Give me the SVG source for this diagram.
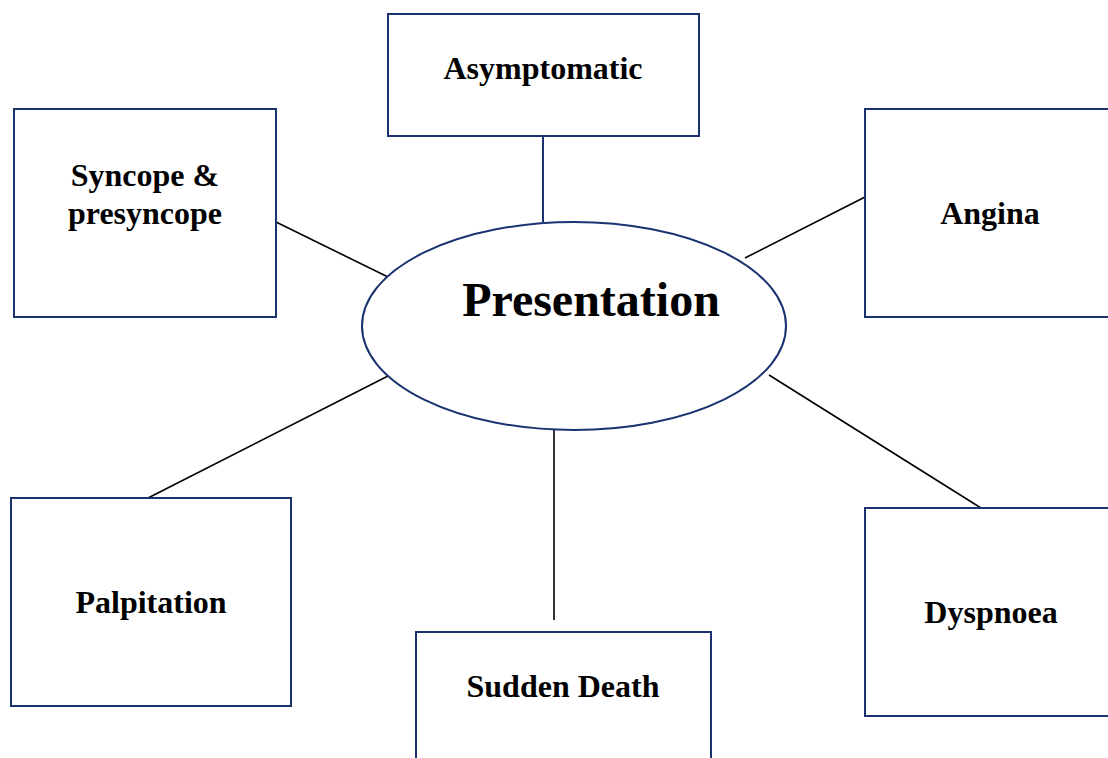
<svg xmlns="http://www.w3.org/2000/svg" width="1108" height="758" viewBox="0 0 1108 758">
<style>
.box{fill:#fff;stroke:#1a3370;stroke-width:2}
.lbl{font-family:"Liberation Serif","Times New Roman",serif;font-weight:bold;font-size:32px;fill:#000;text-anchor:middle}
.big{font-size:48px}
.conn{stroke:#000;stroke-width:1.6;fill:none}
.connb{stroke:#1a3370;stroke-width:2;fill:none}
</style>
<rect width="1108" height="758" fill="#fff"/>
<g id="connectors">
<line class="connb" x1="543" y1="136" x2="543" y2="222"/>
<line class="conn" x1="276" y1="222" x2="388" y2="277"/>
<line class="conn" x1="745" y1="258" x2="865" y2="197"/>
<line class="conn" x1="148" y1="498" x2="388" y2="376"/>
<line class="conn" x1="554" y1="430" x2="554" y2="620"/>
<line class="conn" x1="769" y1="375" x2="981" y2="508"/>
</g>
<g id="presentation">
<ellipse class="box" cx="574" cy="326" rx="212" ry="104"/>
<text class="lbl big" x="591" y="316">Presentation</text>
</g>
<g id="asymptomatic">
<rect class="box" x="388" y="14" width="311" height="122"/>
<text class="lbl" x="543" y="79">Asymptomatic</text>
</g>
<g id="syncope">
<rect class="box" x="14" y="109" width="262" height="208"/>
<text class="lbl" x="145" y="186">Syncope &amp;</text>
<text class="lbl" x="145" y="224">presyncope</text>
</g>
<g id="angina">
<rect class="box" x="865" y="109" width="260" height="208"/>
<text class="lbl" x="990" y="224">Angina</text>
</g>
<g id="palpitation">
<rect class="box" x="11" y="498" width="280" height="208"/>
<text class="lbl" x="151" y="613">Palpitation</text>
</g>
<g id="sudden-death">
<rect class="box" x="416" y="632" width="295" height="140"/>
<text class="lbl" x="563" y="697">Sudden Death</text>
</g>
<g id="dyspnoea">
<rect class="box" x="865" y="508" width="260" height="208"/>
<text class="lbl" x="991" y="623">Dyspnoea</text>
</g>
</svg>
